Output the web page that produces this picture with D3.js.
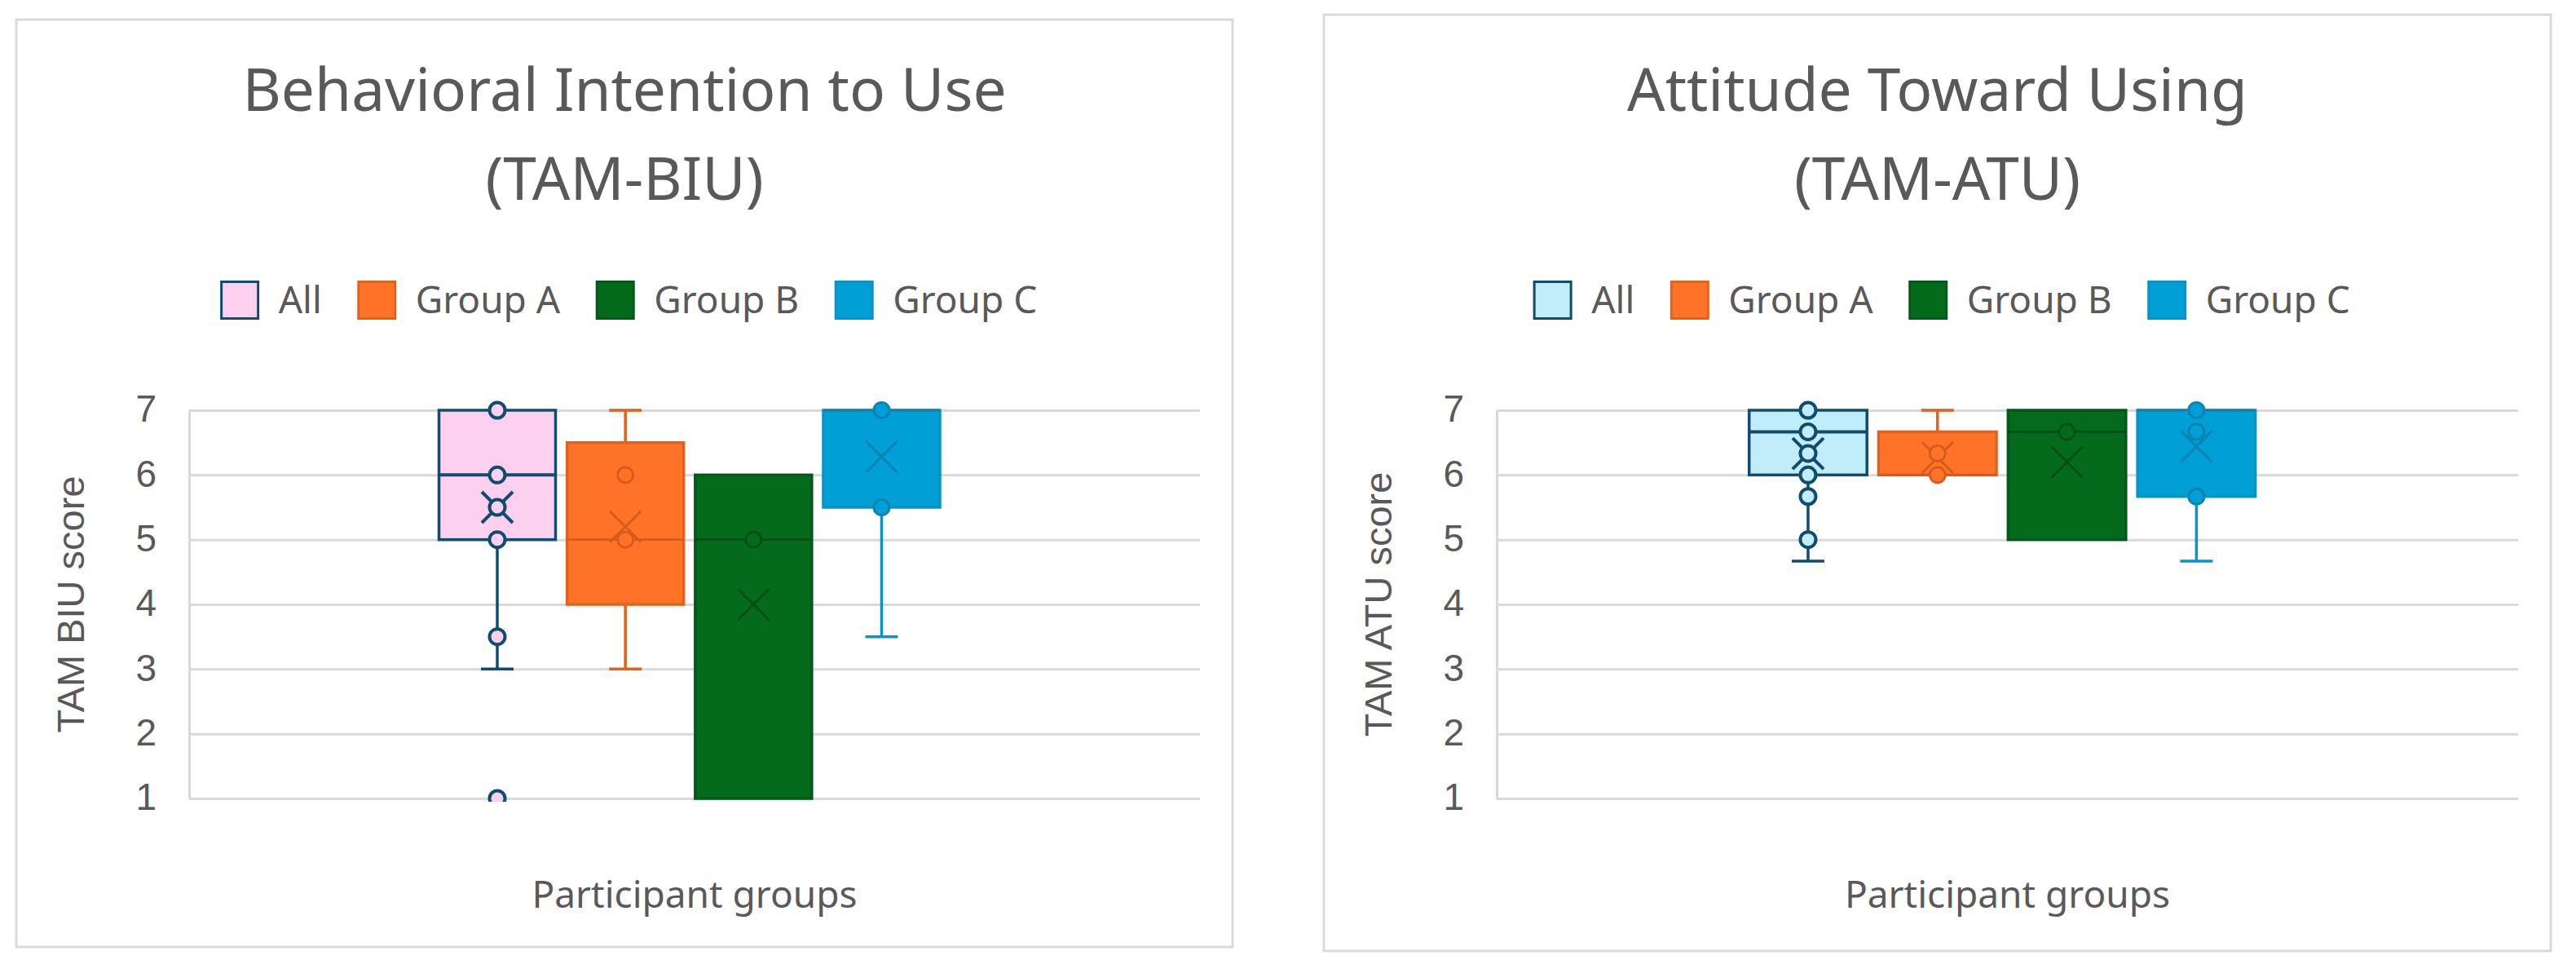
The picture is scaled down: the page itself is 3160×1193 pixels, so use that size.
<!DOCTYPE html>
<html>
<head>
<meta charset="utf-8">
<script src="https://cdn.jsdelivr.net/npm/d3@7"></script>
<style>
  body { margin: 0; background: #fff; }
  .title, .legend-label, .x-title { font-family: "Noto Sans", "Open Sans", sans-serif; fill: #595959; }
  .y-title, .tick text { font-family: "Liberation Sans", Arial, sans-serif; fill: #595959; }
</style>
</head>
<body>
<div id="chart"></div>
<script>
const width = 3160;
const height = 1193;

const groups = ["All", "Group A", "Group B", "Group C"];
const yTicks = [1, 2, 3, 4, 5, 6, 7];

// TAM-BIU
const biuLow = [3, 3, 1, 3.5];
const biuQ1 = [5, 4, 1, 5.5];
const biuMedian = [6, 5, 5, 7];
const biuQ3 = [7, 6.5, 6, 7];
const biuHigh = [7, 7, 6, 7];
const biuMean = [5.5, 5.2, 4.0, 6.28];
const biuPoints = [[7, 6, 5.5, 5, 3.5, 1], [6, 5], [5], [7, 5.5]];

// TAM-ATU
const atuLow = [4.667, 6, 5, 4.667];
const atuQ1 = [6, 6, 5, 5.667];
const atuMedian = [6.667, 6, 6.667, 7];
const atuQ3 = [7, 6.667, 7, 7];
const atuHigh = [7, 7, 7, 7];
const atuMean = [6.33, 6.27, 6.2, 6.44];
const atuPoints = [[7, 6.667, 6.333, 6, 5.667, 5], [6.333, 6], [6.667], [7, 6.667, 5.667]];

const biuFill = ["#FDD0F0", "#FF7328", "#036B1B", "#00A0D7"];
const atuFill = ["#C1ECFA", "#FF7328", "#036B1B", "#00A0D7"];
const boxStroke = ["#0F4C6E", "#E2621C", "#02591A", "#0A93C6"];
const markStroke = ["#0F4C6E", "#D65A1A", "#024F16", "#0A84B2"];
const markWidth = [4, 2.8, 2.8, 3.2];

const svg = d3.select("#chart")
  .append("svg")
  .attr("width", width)
  .attr("height", height);

function rowsFrom(low, q1, med, q3, high, mean, points, fill) {
  return groups.map((name, i) => ({
    name, low: low[i], q1: q1[i], median: med[i], q3: q3[i], high: high[i],
    mean: mean[i], points: points[i], fill: fill[i],
    stroke: boxStroke[i], mark: markStroke[i], mw: markWidth[i]
  }));
}

function drawPanel(p) {
  const g = svg.append("g");

  g.append("rect")
    .attr("x", p.left).attr("y", p.top)
    .attr("width", p.right - p.left).attr("height", p.bottom - p.top)
    .attr("fill", "#fff").attr("stroke", "#D9D9D9").attr("stroke-width", 3);

  const cx = (p.left + p.right) / 2;

  g.selectAll(".title")
    .data(p.title)
    .join("text")
    .attr("class", "title")
    .attr("x", cx)
    .attr("y", (d, i) => 136 + i * 109)
    .attr("text-anchor", "middle")
    .attr("font-size", 73)
    .text(d => d);

  const y = d3.scaleLinear().domain([1, 7]).range([979, 503]);
  const plotLeft = p.left + 212;
  const plotRight = p.right - 40;
  const x = d3.scaleBand()
    .domain(groups)
    .range([plotLeft, plotRight])
    .paddingInner(0.09)
    .paddingOuter(1.99)
    .align(0.49);

  const axis = g.append("g")
    .attr("transform", `translate(${plotLeft},0)`)
    .call(d3.axisLeft(y)
      .tickValues(yTicks)
      .tickFormat(d3.format("d"))
      .tickSize(-(plotRight - plotLeft))
      .tickSizeOuter(0)
      .tickPadding(40));
  axis.select(".domain").attr("stroke", "#D9D9D9").attr("stroke-width", 3);
  axis.selectAll(".tick line").attr("stroke", "#D9D9D9").attr("stroke-width", 3);
  axis.selectAll(".tick text").attr("font-size", 46).attr("dy", "0.3em");

  g.append("text")
    .attr("class", "y-title")
    .attr("transform", `translate(${plotLeft - 145},${(y(1) + y(7)) / 2}) rotate(-90)`)
    .attr("text-anchor", "middle")
    .attr("dy", "0.35em")
    .attr("font-size", 47)
    .text(p.yTitle);

  g.append("text")
    .attr("class", "x-title")
    .attr("x", (plotLeft + plotRight) / 2)
    .attr("y", 1113)
    .attr("text-anchor", "middle")
    .attr("font-size", 46)
    .text("Participant groups");

  // legend
  const legend = g.append("g");
  const items = legend.selectAll("g")
    .data(p.rows)
    .join("g");
  items.append("rect")
    .attr("width", 45).attr("height", 45)
    .attr("y", -22.5)
    .attr("fill", d => d.fill)
    .attr("stroke", d => d.stroke)
    .attr("stroke-width", 3);
  items.append("text")
    .attr("class", "legend-label")
    .attr("x", 70)
    .attr("dy", "0.35em")
    .attr("font-size", 46)
    .text(d => d.name);
  let off = 0;
  items.each(function () {
    const w = 70 + this.querySelector("text").getComputedTextLength();
    d3.select(this).attr("transform", `translate(${off},0)`);
    off += w + 45;
  });
  off -= 45;
  legend.attr("transform", `translate(${cx - off / 2 + 6},368)`);

  // boxes
  const clipId = "clip" + p.left;
  g.append("clipPath").attr("id", clipId)
    .append("rect")
    .attr("x", plotLeft).attr("y", y(7) - 30)
    .attr("width", plotRight - plotLeft).attr("height", y(1) - y(7) + 34);

  const boxes = g.append("g")
    .attr("clip-path", `url(#${clipId})`)
    .selectAll("g")
    .data(p.rows)
    .join("g");

  const mid = d => x(d.name) + x.bandwidth() / 2;

  boxes.filter(d => d.high > d.q3).each(function (d) {
    const s = d3.select(this);
    s.append("line").attr("x1", mid(d)).attr("x2", mid(d)).attr("y1", y(d.q3)).attr("y2", y(d.high));
    s.append("line").attr("x1", mid(d) - 20).attr("x2", mid(d) + 20).attr("y1", y(d.high)).attr("y2", y(d.high));
  });
  boxes.filter(d => d.low < d.q1).each(function (d) {
    const s = d3.select(this);
    s.append("line").attr("x1", mid(d)).attr("x2", mid(d)).attr("y1", y(d.q1)).attr("y2", y(d.low));
    s.append("line").attr("x1", mid(d) - 20).attr("x2", mid(d) + 20).attr("y1", y(d.low)).attr("y2", y(d.low));
  });
  boxes.selectAll("line")
    .attr("stroke", function () { return d3.select(this.parentNode).datum().stroke; })
    .attr("stroke-width", 3.5);

  boxes.append("rect")
    .attr("x", d => x(d.name))
    .attr("y", d => y(d.q3))
    .attr("width", x.bandwidth())
    .attr("height", d => y(d.q1) - y(d.q3))
    .attr("fill", d => d.fill)
    .attr("stroke", d => d.stroke)
    .attr("stroke-width", 3.5);

  boxes.append("line")
    .attr("x1", d => x(d.name))
    .attr("x2", d => x(d.name) + x.bandwidth())
    .attr("y1", d => y(d.median))
    .attr("y2", d => y(d.median))
    .attr("stroke", d => d.mark)
    .attr("stroke-width", d => d.mw);

  boxes.append("path")
    .attr("d", d => {
      const mx = mid(d), my = y(d.mean);
      return `M${mx - 19},${my - 19}L${mx + 19},${my + 19}M${mx - 19},${my + 19}L${mx + 19},${my - 19}`;
    })
    .attr("fill", "none")
    .attr("stroke", d => d.mark)
    .attr("stroke-width", d => d.mw);

  boxes.selectAll("circle")
    .data(d => d.points.map(v => ({ v, d })))
    .join("circle")
    .attr("cx", e => mid(e.d))
    .attr("cy", e => y(e.v))
    .attr("r", 9.5)
    .attr("fill", e => e.d.fill)
    .attr("stroke", e => e.d.mark)
    .attr("stroke-width", e => e.d.mw);
}

drawPanel({
  left: 20, right: 1512, top: 24, bottom: 1161,
  title: ["Behavioral Intention to Use", "(TAM-BIU)"],
  yTitle: "TAM BIU score",
  rows: rowsFrom(biuLow, biuQ1, biuMedian, biuQ3, biuHigh, biuMean, biuPoints, biuFill)
});

drawPanel({
  left: 1624, right: 3129, top: 18, bottom: 1166,
  title: ["Attitude Toward Using", "(TAM-ATU)"],
  yTitle: "TAM ATU score",
  rows: rowsFrom(atuLow, atuQ1, atuMedian, atuQ3, atuHigh, atuMean, atuPoints, atuFill)
});
</script>
</body>
</html>
